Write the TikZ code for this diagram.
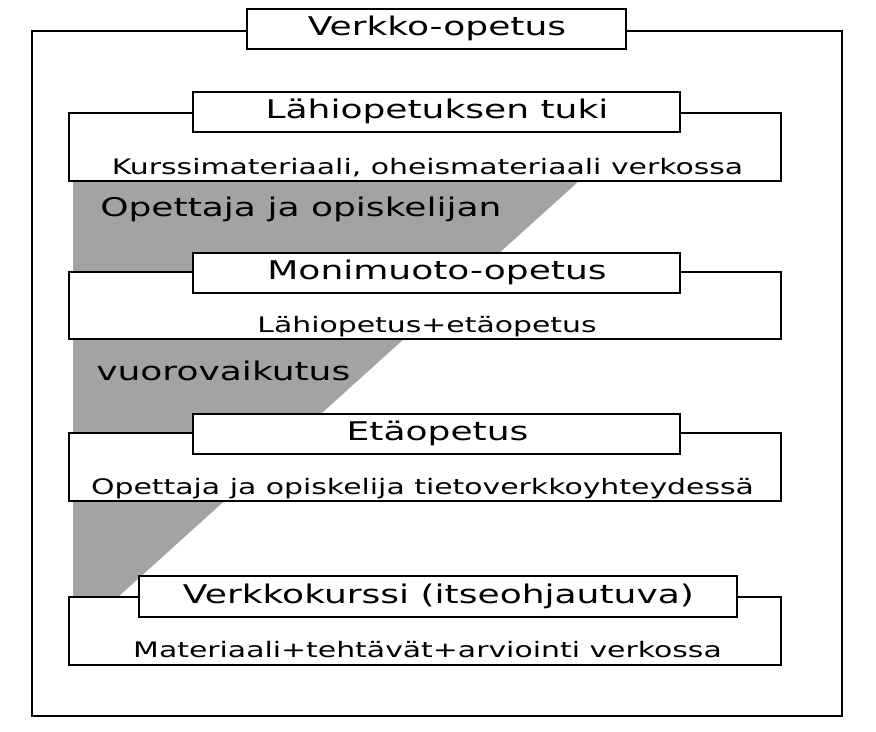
\documentclass[tikz,border=0pt]{standalone}
\usepackage{fontspec}
\setmainfont[FakeStretch=1.4]{DejaVu Sans}

\tikzset{every picture/.style={line width=1.9pt}}
\tikzset{
  titletext/.style={anchor=base, inner sep=0.75pt, font=\fontsize{19.3}{23}\selectfont},
  bodytext/.style={anchor=base, inner sep=0.75pt, font=\fontsize{16}{19}\selectfont},
  graytext/.style={anchor=base west, inner sep=0.75pt, font=\fontsize{19.3}{23}\selectfont},
}
\definecolor{bandgray}{RGB}{163,163,163}

\begin{document}
\begin{tikzpicture}[x=0.75pt,y=0.75pt,yscale=-1,xscale=1]
\useasboundingbox (0,0) rectangle (876,732);

%Shape: Rectangle [outer frame]
\draw   (32,31) rectangle (842,716) ;
%Shape: Polygon [shaded band]
\fill [bandgray] (73,181) -- (579,181) -- (118,597) -- (73,597) -- cycle ;

%Shape: Rectangle [Lahiopetuksen tuki]
\draw  [fill=white] (69,113) rectangle (781,181) ;
\draw  [fill=white] (193,92) rectangle (680,132) ;
%Shape: Rectangle [Monimuoto-opetus]
\draw  [fill=white] (69,272) rectangle (781,339) ;
\draw  [fill=white] (193,253) rectangle (680,293) ;
%Shape: Rectangle [Etaopetus]
\draw  [fill=white] (69,433) rectangle (781,501) ;
\draw  [fill=white] (193,414) rectangle (680,454) ;
%Shape: Rectangle [Verkkokurssi]
\draw  [fill=white] (69,597) rectangle (781,665) ;
\draw  [fill=white] (139,576) rectangle (737,617) ;
%Shape: Rectangle [main title]
\draw  [fill=white] (247,9) rectangle (626,49) ;

% Text Node
\draw (437,35) node [titletext] (verkko) {Verkko-opetus};
% Text Node
\draw (437,118) node [titletext] (tuki) {Lähiopetuksen tuki};
% Text Node
\draw (427.5,174) node [bodytext] (tukiText) {Kurssimateriaali, oheismateriaali verkossa};
% Text Node
\draw (98,216) node [graytext] (vuoro1) {Opettaja ja opiskelijan};
% Text Node
\draw (437,279) node [titletext] (moni) {Monimuoto-opetus};
% Text Node
\draw (427,332) node [bodytext] (moniText) {Lähiopetus+etäopetus};
% Text Node
\draw (94,380) node [graytext] (vuoro2) {vuorovaikutus};
% Text Node
\draw (437.5,440) node [titletext] (eta) {Etäopetus};
% Text Node
\draw (422.5,494) node [bodytext] (etaText) {Opettaja ja opiskelija tietoverkkoyhteydessä};
% Text Node
\draw (438.5,603) node [titletext] (kurssi) {Verkkokurssi (itseohjautuva)};
% Text Node
\draw (427.5,657) node [bodytext] (kurssiText) {Materiaali+tehtävät+arviointi verkossa};

\end{tikzpicture}
\end{document}
